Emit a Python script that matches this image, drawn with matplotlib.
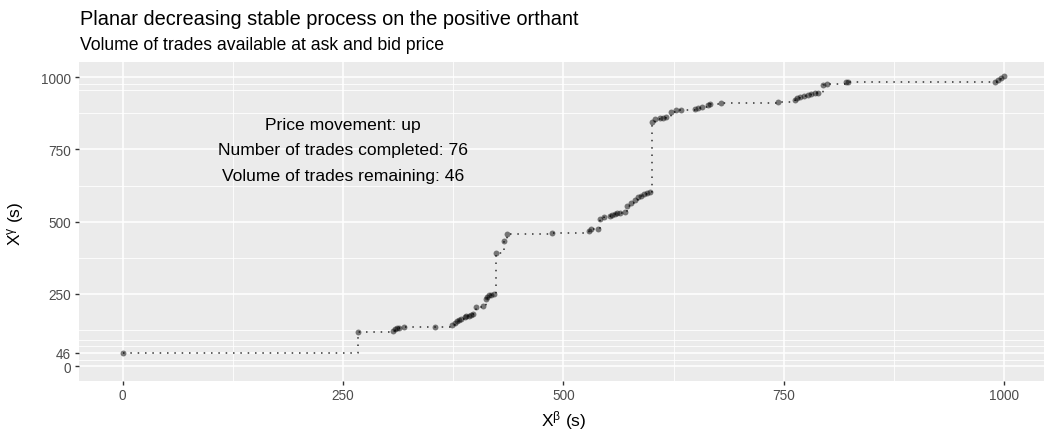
import numpy as np
import matplotlib
matplotlib.use("Agg")
import matplotlib.pyplot as plt

plt.rcParams["font.family"] = ["Liberation Sans", "DejaVu Sans"]
plt.rcParams["mathtext.fontset"] = "custom"
plt.rcParams["mathtext.rm"] = "Liberation Sans"
plt.rcParams["mathtext.it"] = "Liberation Sans:italic"

# trades: X^beta (ask side) and X^gamma (bid side)
x_beta = [0, 267, 306.6, 308.5, 311, 314, 318.7, 354, 374, 376.5, 379.2, 381.5,
          384.2, 388, 389.8, 392.8, 395.5, 397.3, 401, 408.7, 411.7, 413.7, 415.5,
          418.2, 420.8, 424, 432.5, 436.3, 487, 528.6, 531.6, 539.6, 541.9, 546,
          552.4, 555.5, 558, 560.7, 563.8, 569.4, 572.5, 576.2, 580.8, 584.5, 588.3,
          591.3, 594.7, 598.6, 600.8, 603.4, 609.1, 612.9, 616.7, 622.4, 628, 632.9,
          648.8, 652.6, 657.1, 664, 666, 679, 743.4, 762.5, 765, 768.7, 772.5, 777.4,
          781.2, 785, 788.7, 794.4, 799.3, 821, 823, 990, 992.9, 996.7, 1000]
x_gamma = [46, 117, 121, 127, 131, 133, 135, 135, 143.5, 150.5, 155, 158.4, 163,
           170, 172, 174.7, 178, 180, 206, 209.4, 231, 240.6, 245, 247.5, 249.7, 393,
           433, 457.7, 461, 468, 473, 475, 507.6, 514.5, 519, 521.5, 525, 528.4, 530.5,
           535, 554.8, 563, 574.6, 584, 589.5, 595.4, 597.8, 601.2, 844, 855.4, 857.8,
           860, 863.4, 880.7, 885.5, 886.6, 890, 893.5, 898, 905, 908.5, 912, 913, 920,
           927, 932.7, 936, 939.7, 942, 944.5, 946.6, 973, 976.8, 982.7, 983.7, 984.8,
           990.6, 997.5, 1003]

x_breaks = [0, 250, 500, 750, 1000]
y_breaks = [46, 0, 250, 500, 750, 1000]
info_lines = ["Price movement: up",
              "Number of trades completed: 76",
              "Volume of trades remaining: 46"]


def minor_breaks(b, lims, n=2):
    # same rule ggplot2 uses for minor grid lines
    b = list(b)
    bd = b[1] - b[0]
    if min(lims) < min(b):
        b = [b[0] - bd] + b
    if max(lims) > max(b):
        b = b + [b[-1] + bd]
    out = []
    for a, c in zip(b[:-1], b[1:]):
        out += list(np.linspace(a, c, n + 1)[:-1])
    out.append(b[-1])
    return [v for v in out if lims[0] <= v <= lims[1]]


W, H = 1044, 435
fig = plt.figure(figsize=(W / 100, H / 100), dpi=100)
l, r, t, btm = 78.6, 1048.7, 62.7, 381.7
ax = fig.add_axes([l / W, 1 - btm / H, (r - l) / W, (btm - t) / H])

xlim = (-50, 1050.5)
ylim = (-50.2, 1053.5)
ax.set_xlim(xlim)
ax.set_ylim(ylim)
ax.set_facecolor("#EBEBEB")
for s in ax.spines.values():
    s.set_visible(False)

ax.set_xticks(x_breaks)
ax.set_yticks(sorted(y_breaks))
ax.set_xticks(minor_breaks(x_breaks, xlim), minor=True)
ax.set_yticks(minor_breaks(y_breaks, ylim), minor=True)
ax.grid(which="major", color="white", linewidth=1.15)
ax.grid(which="minor", color="white", linewidth=0.6)
ax.set_axisbelow(True)
ax.tick_params(which="major", length=3.0, width=1.0, color="#333333",
               labelcolor="#4D4D4D", labelsize=9.8, pad=2.4)
ax.tick_params(which="minor", length=0)

ax.step(x_beta, x_gamma, where="post", color="#333333", linewidth=1.1,
        linestyle=(0, (1, 3.8)), zorder=2)
ax.scatter(x_beta, x_gamma, s=18, color="black", alpha=0.5, linewidths=0,
           zorder=3)

for txt, yy in zip(info_lines, [835, 748, 659]):
    ax.text(250, yy, txt, ha="center", va="center", fontsize=12.6)

ax.set_xlabel(r"X$^{\mathrm{\beta}}$ (s)", fontsize=12.5)
ax.set_ylabel(r"X$^{\mathrm{\gamma}}$ (s)", fontsize=12.5)
ax.xaxis.set_label_coords((564 - l) / (r - l), -(421 - btm) / (btm - t))
ax.xaxis.label.set_verticalalignment("center")
ax.yaxis.set_label_coords((15 - l) / (r - l), (btm - 224) / (btm - t))
ax.yaxis.label.set_verticalalignment("center")

fig.text(80 / W, 1 - 25 / H, "Planar decreasing stable process on the positive orthant",
         fontsize=14.4, va="baseline", ha="left")
fig.text(80 / W, 1 - 50 / H, "Volume of trades available at ask and bid price",
         fontsize=12.7, va="baseline", ha="left")

fig.savefig("out.png", dpi=100)
